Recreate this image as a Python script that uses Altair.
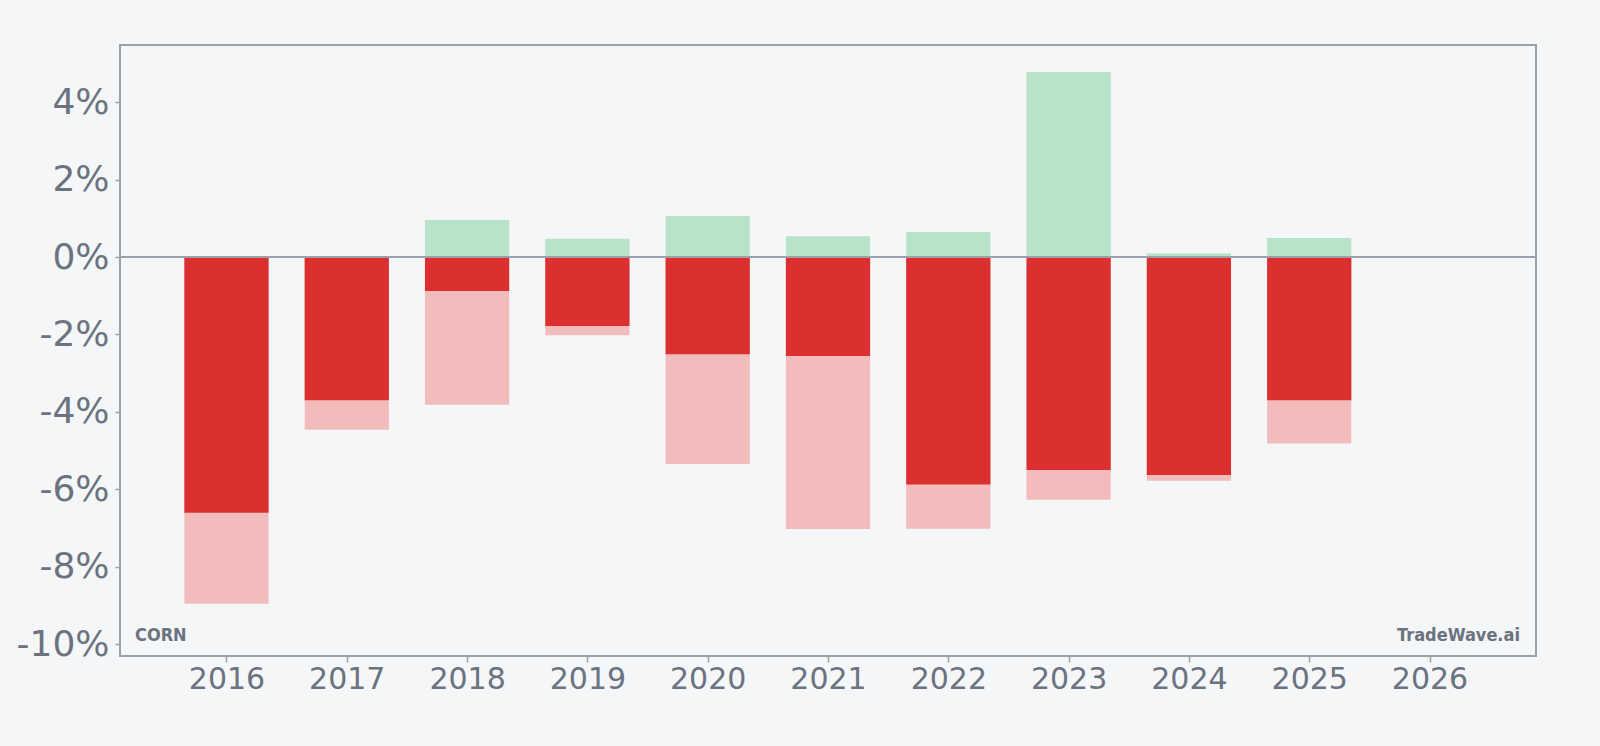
import altair as alt
import pandas as pd

years = [2016, 2017, 2018, 2019, 2020, 2021, 2022, 2023, 2024, 2025]
max_gain = [0.0, 0.0, 0.96, 0.47, 1.06, 0.54, 0.65, 4.78, 0.10, 0.49]
max_drawdown = [-8.96, -4.46, -3.82, -2.02, -5.35, -7.03, -7.02, -6.27, -5.78, -4.82]
year_return = [-6.61, -3.70, -0.88, -1.78, -2.51, -2.56, -5.88, -5.50, -5.63, -3.70]
tick_years = list(range(2016, 2027))
y_ticks = [-10, -8, -6, -4, -2, 0, 2, 4]
symbol = "CORN"
brand = "TradeWave.ai"

df = pd.DataFrame({"year": years, "gain": max_gain, "dd": max_drawdown, "ret": year_return})

GRAY = "#6b7280"
FRAME = "#9ca0ab"
xscale = alt.Scale(domain=[2015.115, 2026.885], nice=False, zero=False)
yscale = alt.Scale(domain=[-10.31, 5.48], nice=False, zero=False)

base = alt.Chart(df).transform_calculate(
    x0="datum.year - 0.35", x1="datum.year + 0.35", zero="0"
)

xaxis = alt.Axis(values=tick_years, format="d", title=None, labelFontSize=30,
                 tickSize=6, labelPadding=2, grid=False, domain=False)
yaxis = alt.Axis(values=y_ticks, labelExpr="datum.value + '%'", title=None,
                 labelFontSize=36, tickSize=5, labelPadding=6, grid=False, domain=False)

green = base.mark_bar(color="#b8e3c8").encode(
    x=alt.X("x0:Q", scale=xscale, axis=xaxis), x2="x1:Q",
    y=alt.Y("gain:Q", scale=yscale, axis=yaxis), y2="zero:Q")
light = base.mark_bar(color="#f2bcbc").encode(
    x=alt.X("x0:Q", scale=xscale), x2="x1:Q",
    y=alt.Y("dd:Q", scale=yscale), y2="zero:Q")
dark = base.mark_bar(color="#dc3030").encode(
    x=alt.X("x0:Q", scale=xscale), x2="x1:Q",
    y=alt.Y("ret:Q", scale=yscale), y2="zero:Q")
zero = alt.Chart(pd.DataFrame({"v": [0]})).mark_rule(color=FRAME, strokeWidth=2).encode(
    y=alt.Y("v:Q", scale=yscale))

t1 = alt.Chart(pd.DataFrame({"t": [symbol]})).mark_text(
    align="left", baseline="alphabetic", fontSize=18, fontWeight="bold",
    font="DejaVu Sans Condensed, DejaVu Sans", color=GRAY
).encode(text="t:N", x=alt.value(15), y=alt.value(596))
t2 = alt.Chart(pd.DataFrame({"t": [brand]})).mark_text(
    align="right", baseline="alphabetic", fontSize=18, fontWeight="bold",
    font="DejaVu Sans Condensed, DejaVu Sans", color=GRAY
).encode(text="t:N", x=alt.value(1400), y=alt.value(596))

chart = alt.layer(green, light, dark, zero, t1, t2).properties(
    width=1416, height=611,
    background="#f4f6f8",
    autosize=alt.AutoSizeParams(type="none"),
    padding={"left": 120, "top": 45, "right": 64, "bottom": 90},
).configure_view(stroke=FRAME, strokeWidth=2).configure_axis(
    labelFont="DejaVu Sans", labelColor=GRAY, tickColor=FRAME, tickWidth=1.5
)

chart.save("out.html", embed_options={"renderer": "svg", "actions": False})
